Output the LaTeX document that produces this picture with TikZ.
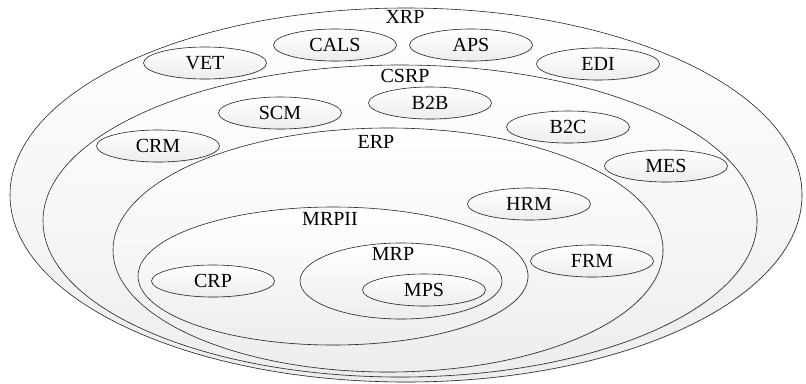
\documentclass[tikz,border=0pt]{standalone}
\usepackage{fontspec}
\setmainfont{Liberation Serif}
\usetikzlibrary{shapes.geometric,shadows}
\tikzset{
  layerEllipse/.style={ellipse,draw=black!85,line width=0.6pt,top color=white,bottom color=black!7,inner sep=0pt,
      drop shadow={opacity=0.18,shadow xshift=0.8pt,shadow yshift=-0.8pt}},
  moduleEllipse/.style={layerEllipse,minimum width=123pt,minimum height=32pt},
  layerLabel/.style={inner sep=0pt},
}
\newcommand{\DiagFont}{\fontsize{20}{22}\selectfont}

\begin{document}
\begin{tikzpicture}[x=1pt,y=-1pt,font=\DiagFont]
  \useasboundingbox (0,0) rectangle (806,383);

  % nested layers
  \node[layerEllipse,minimum width=792pt,minimum height=374pt] at (406,195) (xrp) {};
  \node[layerEllipse,minimum width=714pt,minimum height=312pt] at (400,221) (csrp) {};
  \node[layerEllipse,minimum width=550pt,minimum height=244pt] at (388,250) (erp) {};
  \node[layerEllipse,minimum width=390pt,minimum height=138pt] at (333,276) (mrpii) {};
  \node[layerEllipse,minimum width=202pt,minimum height=76pt] at (401,281) (mrp) {};

  \node[layerLabel] at (405,17) (xrpLabel) {XRP};
  \node[layerLabel] at (405,76) (csrpLabel) {CSRP};
  \node[layerLabel] at (376,142) (erpLabel) {ERP};
  \node[layerLabel] at (330,219) (mrpiiLabel) {MRPII};
  \node[layerLabel] at (393,254) (mrpLabel) {MRP};

  % modules
  \node[moduleEllipse] at (205,63) (vet) {VET};
  \node[moduleEllipse] at (335,45) (cals) {CALS};
  \node[moduleEllipse] at (471,45) (aps) {APS};
  \node[moduleEllipse] at (598,64) (edi) {EDI};
  \node[moduleEllipse] at (280,113) (scm) {SCM};
  \node[moduleEllipse] at (430,103) (b2b) {B2B};
  \node[moduleEllipse] at (568,127) (b2c) {B2C};
  \node[moduleEllipse] at (158,146) (crm) {CRM};
  \node[moduleEllipse] at (666,166) (mes) {MES};
  \node[moduleEllipse] at (529,204) (hrm) {HRM};
  \node[moduleEllipse] at (592,261) (frm) {FRM};
  \node[moduleEllipse] at (213,281) (crp) {CRP};
  \node[moduleEllipse] at (424,290) (mps) {MPS};
\end{tikzpicture}
\end{document}
